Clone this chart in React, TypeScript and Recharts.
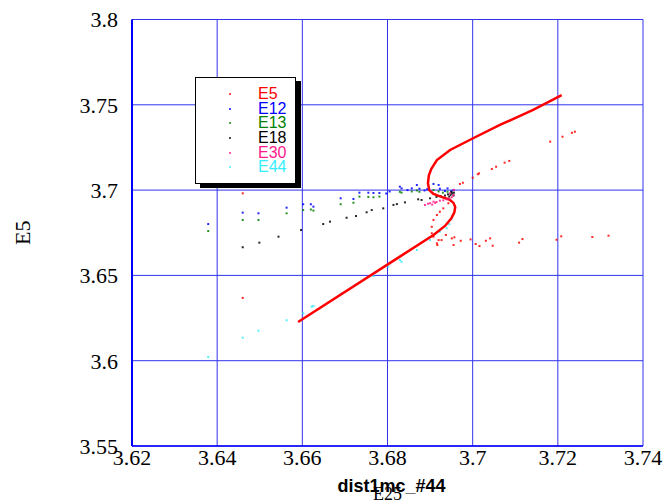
import React from 'react'
import {
  ComposedChart,
  Scatter,
  XAxis,
  YAxis,
  CartesianGrid,
} from 'recharts'

// 軸の目盛
const X_TICKS = [3.62, 3.64, 3.66, 3.68, 3.7, 3.72, 3.74]
const Y_TICKS = [3.55, 3.6, 3.65, 3.7, 3.75, 3.8]

// E5 の軌跡 (太線)
const E5_PATH: [number, number][] = [
  [3.659, 3.6227], [3.6829, 3.661], [3.6908, 3.6737], [3.6935, 3.679],
  [3.695, 3.6835], [3.6957, 3.687], [3.6959, 3.69], [3.6955, 3.6925],
  [3.6945, 3.6945], [3.6925, 3.6962], [3.6908, 3.6978], [3.6898, 3.7],
  [3.6895, 3.704], [3.6897, 3.7085], [3.6903, 3.7125], [3.6916, 3.7176],
  [3.6947, 3.7235], [3.7001, 3.7304], [3.7064, 3.7382], [3.7142, 3.747],
  [3.7209, 3.7557],
]

// 各センサの点列
const E5_POINTS: [number, number][] = [
  [3.646, 3.6981], [3.646, 3.6368],
  [3.6904, 3.6785], [3.6908, 3.6825], [3.6916, 3.6854], [3.6923, 3.6873],
  [3.6931, 3.6893], [3.6943, 3.6923], [3.6904, 3.6747], [3.6908, 3.6727],
  [3.6916, 3.6688], [3.692, 3.6707],
  [3.6917, 3.6678], [3.6927, 3.6707], [3.6937, 3.6737], [3.6951, 3.6717],
  [3.6957, 3.6723], [3.6955, 3.6678], [3.6972, 3.6703], [3.6995, 3.6711],
  [3.7007, 3.6684], [3.7016, 3.6672], [3.7031, 3.6703], [3.7041, 3.6717],
  [3.7047, 3.6674], [3.7109, 3.6692], [3.7117, 3.6713], [3.7197, 3.6709],
  [3.7208, 3.6729], [3.7281, 3.6725], [3.7319, 3.6733],
  [3.697, 3.7036], [3.6977, 3.7043], [3.7, 3.7073], [3.7012, 3.7093],
  [3.7015, 3.7098], [3.7045, 3.7124], [3.7055, 3.7137], [3.7075, 3.7161],
  [3.7086, 3.7171], [3.7182, 3.7284], [3.7211, 3.7313], [3.7233, 3.7336],
  [3.724, 3.7342],
]

const E12_POINTS: [number, number][] = [
  [3.6379, 3.6801], [3.646, 3.6868], [3.6497, 3.6864], [3.6563, 3.6897],
  [3.6602, 3.6917], [3.662, 3.6917], [3.6626, 3.6903], [3.669, 3.6952],
  [3.672, 3.6948], [3.6734, 3.6985], [3.6755, 3.6985], [3.6767, 3.6983],
  [3.6781, 3.6983], [3.6797, 3.698], [3.6805, 3.6992], [3.6829, 3.702],
  [3.6833, 3.701], [3.6847, 3.7], [3.6857, 3.701], [3.6869, 3.703],
  [3.6875, 3.7008], [3.6887, 3.6998], [3.6893, 3.7005], [3.6908, 3.7036],
  [3.692, 3.703], [3.6923, 3.7008], [3.6935, 3.6995], [3.6941, 3.701],
  [3.695, 3.6993], [3.6955, 3.7],
]

const E13_POINTS: [number, number][] = [
  [3.6379, 3.676], [3.646, 3.6825], [3.6497, 3.6825], [3.6563, 3.6864],
  [3.6602, 3.6883], [3.662, 3.6886], [3.6626, 3.688], [3.669, 3.6917],
  [3.672, 3.6926], [3.6734, 3.6962], [3.6755, 3.696], [3.6767, 3.6958],
  [3.6781, 3.6962], [3.6829, 3.699], [3.6833, 3.6985], [3.6857, 3.6992],
  [3.6869, 3.6998], [3.6875, 3.699], [3.6908, 3.7], [3.692, 3.6992],
  [3.693, 3.6985], [3.6941, 3.699], [3.695, 3.6985],
]

const E18_POINTS: [number, number][] = [
  [3.646, 3.6665], [3.6499, 3.6692], [3.6544, 3.6727], [3.6597, 3.6766],
  [3.6649, 3.6801], [3.6665, 3.6815], [3.6704, 3.6838], [3.6726, 3.6848],
  [3.6751, 3.687], [3.6763, 3.6883], [3.679, 3.6893], [3.6814, 3.6913],
  [3.6822, 3.6918], [3.6841, 3.6928], [3.6872, 3.6946], [3.688, 3.6942],
  [3.69, 3.6952], [3.6915, 3.696], [3.6925, 3.6965], [3.6935, 3.6968],
  [3.6942, 3.6975], [3.6948, 3.6972], [3.6952, 3.698], [3.6955, 3.6968],
  [3.6945, 3.6962], [3.6956, 3.6985], [3.695, 3.699],
]

const E30_POINTS: [number, number][] = [
  [3.6888, 3.6913], [3.6895, 3.692], [3.69, 3.6923], [3.6908, 3.6932],
  [3.6915, 3.693], [3.6923, 3.6938], [3.6931, 3.694], [3.6939, 3.6946],
  [3.6945, 3.695], [3.6951, 3.6958], [3.6955, 3.6971], [3.6947, 3.6981],
  [3.6956, 3.7001], [3.6905, 3.6915], [3.6912, 3.6925],
]

const E44_POINTS: [number, number][] = [
  [3.6379, 3.6022], [3.646, 3.6135], [3.6497, 3.6176], [3.6563, 3.6237],
  [3.6602, 3.6278], [3.6622, 3.6317], [3.6626, 3.6321], [3.6692, 3.6395],
  [3.6724, 3.6444], [3.6767, 3.6496], [3.6802, 3.6551], [3.6829, 3.659],
  [3.6833, 3.658], [3.6869, 3.6649], [3.69, 3.6707], [3.6923, 3.6756],
  [3.6939, 3.6776], [3.6945, 3.68], [3.695, 3.683], [3.6955, 3.686],
  [3.6952, 3.6845],
]

const SERIES_NAMES = ['E5', 'E12', 'E13', 'E18', 'E30', 'E44']
const SERIES_COLORS = ['#ff0000', '#0000ff', '#008000', '#000000', '#ff1a8c', '#33eeff']
const SERIES_POINTS = [E5_POINTS, E12_POINTS, E13_POINTS, E18_POINTS, E30_POINTS, E44_POINTS]

const toXY = (pts: [number, number][]) => pts.map(([x, y]) => ({ x, y }))

const SERIF = '"Liberation Serif", "Times New Roman", serif'
const SANS = '"Liberation Sans", Arial, sans-serif'

// 小さな四角のドット
const Dot = (props: any) => {
  const { cx, cy, fill } = props
  if (cx == null || cy == null) return <g />
  return <rect x={cx - 1} y={cy - 1} width={2} height={2} fill={fill} fillOpacity={0.85} />
}

const NoDot = () => <g />

const XTitle = (props: any) => {
  const { viewBox } = props
  const cx = viewBox.x + viewBox.width / 2
  return (
    <g>
      <text x={cx + 4} y={viewBox.y + 45.5} textAnchor="middle" fontFamily={SANS} fontWeight="bold" fontSize={18} fill="#000">
        dist1mc_#44
      </text>
      <text x={cx} y={viewBox.y + 53.5} textAnchor="middle" fontFamily={SERIF} fontSize={18} fill="#000">
        E25
      </text>
    </g>
  )
}

const YTitle = () => (
  <text x={30} y={232.7} transform="rotate(-90 30 232.7)" textAnchor="middle" fontFamily={SERIF} fontSize={22} fill="#000">
    E5
  </text>
)

const LegendBox = () => (
  <div
    style={{
      position: 'absolute',
      left: 195,
      top: 77,
      width: 99,
      height: 105,
      border: '1px solid #000',
      boxShadow: '5px 4px 0 #000',
      background: '#fff',
    }}
  >
    {SERIES_NAMES.map((name, i) => (
      <div key={name} style={{ position: 'absolute', left: 0, top: 16 + i * 14.67 - 7, height: 14, width: 99 }}>
        <div
          style={{
            position: 'absolute',
            left: 33,
            top: 6,
            width: 2,
            height: 2,
            background: SERIES_COLORS[i],
            opacity: 0.7,
          }}
        />
        <span
          style={{
            position: 'absolute',
            left: 62,
            top: 0,
            lineHeight: '14px',
            fontFamily: SANS,
            fontSize: 16,
            color: SERIES_COLORS[i],
          }}
        >
          {name}
        </span>
      </div>
    ))}
  </div>
)

export default function App() {
  const tickStyle = { fontFamily: SERIF, fontSize: 22, fill: '#000' }
  const order = [0, 1, 2, 3, 5]

  return (
    <div style={{ position: 'absolute', left: 0, top: 0, width: 666, height: 503, background: '#fff' }}>
      <ComposedChart width={666} height={503} margin={{ top: 19.5, right: 23, bottom: 0, left: 0 }}>
        <CartesianGrid xAxisId="b" yAxisId="l" stroke="#3333ee" strokeWidth={1} />
        <XAxis
          xAxisId="b"
          dataKey="x"
          type="number"
          domain={[3.62, 3.74]}
          ticks={X_TICKS}
          allowDataOverflow
          height={57}
          tickSize={0}
          tickMargin={3}
          tick={tickStyle}
          axisLine={{ stroke: '#0000ff', strokeWidth: 1.5 }}
          tickLine={false}
          label={<XTitle />}
        />
        <XAxis xAxisId="t" orientation="top" height={0} tick={false} axisLine={{ stroke: '#0000ff' }} tickLine={false} />
        <YAxis
          yAxisId="l"
          dataKey="y"
          type="number"
          domain={[3.55, 3.8]}
          ticks={Y_TICKS}
          allowDataOverflow
          width={132}
          tickSize={0}
          tickMargin={14}
          tick={tickStyle}
          axisLine={{ stroke: '#0000ff', strokeWidth: 2 }}
          tickLine={false}
          label={<YTitle />}
        />
        <YAxis yAxisId="r" orientation="right" width={0} tick={false} axisLine={{ stroke: '#0000ff', strokeWidth: 1.5 }} tickLine={false} />
        {order.map((i) => (
          <Scatter
            key={SERIES_NAMES[i]}
            name={SERIES_NAMES[i]}
            xAxisId="b"
            yAxisId="l"
            data={toXY(SERIES_POINTS[i])}
            fill={SERIES_COLORS[i]}
            shape={Dot}
            isAnimationActive={false}
          />
        ))}
        <Scatter
          name="E5 path"
          xAxisId="b"
          yAxisId="l"
          data={toXY(E5_PATH)}
          fill="#ff0000"
          line={{ stroke: '#ff0000', strokeWidth: 2.5 }}
          shape={NoDot}
          legendType="none"
          isAnimationActive={false}
        />
        <Scatter
          name={SERIES_NAMES[4]}
          xAxisId="b"
          yAxisId="l"
          data={toXY(SERIES_POINTS[4])}
          fill={SERIES_COLORS[4]}
          shape={Dot}
          isAnimationActive={false}
        />
      </ComposedChart>
      <LegendBox />
    </div>
  )
}
